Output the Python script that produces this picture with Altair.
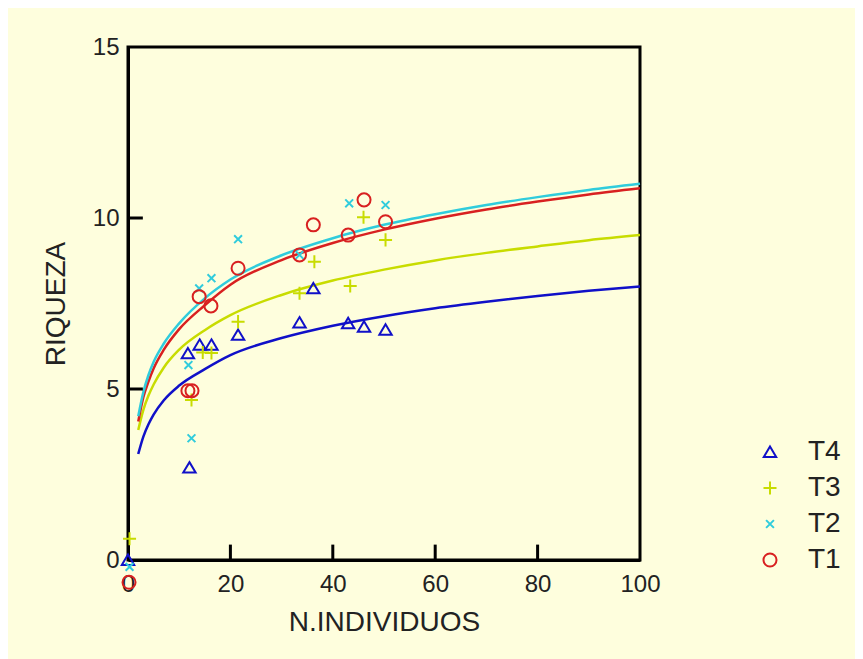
import altair as alt
import pandas as pd

series = ["T4", "T3", "T2", "T1"]
colors = ["#1010C8", "#C8DC00", "#30CCDC", "#D82020"]
shapes = [
    "M0,-0.85L0.95,0.75L-0.95,0.75Z",
    "M-1,0L1,0M0,-1L0,1",
    "M-0.6,-0.6L0.6,0.6M-0.6,0.6L0.6,-0.6",
    "circle",
]

# observed points
t4_x = [0, 11.7, 12, 14, 16.3, 21.5, 33.5, 36.2, 43, 46.1, 50.3]
t4_y = [0, 6.04, 2.7, 6.29, 6.29, 6.58, 6.94, 7.94, 6.92, 6.82, 6.73]
t3_x = [0.3, 12.4, 14.6, 16.3, 21.5, 33.5, 36.4, 43.4, 46, 50.3]
t3_y = [0.62, 4.68, 6.07, 6.05, 6.97, 7.8, 8.72, 8.01, 10.02, 9.36]
t2_x = [0.3, 12.4, 11.8, 13.9, 16.3, 21.5, 33.5, 43.2, 50.3]
t2_y = [-0.2, 3.56, 5.7, 7.94, 8.24, 9.38, 8.92, 10.43, 10.38]
t1_x = [0.2, 11.7, 12.5, 13.9, 16.2, 21.5, 33.5, 36.2, 43, 46.1, 50.3]
t1_y = [-0.65, 4.95, 4.95, 7.7, 7.43, 8.53, 8.92, 9.8, 9.5, 10.53, 9.89]

# fitted curves
curve_x = [2, 3, 4, 5, 7, 10, 15, 20, 30, 40, 50, 60, 70, 80, 90, 100]
t4_c = [3.10, 3.61, 3.97, 4.25, 4.67, 5.10, 5.58, 5.99, 6.49, 6.85, 7.13, 7.36, 7.55, 7.72, 7.87, 8.00]
t3_c = [3.80, 4.39, 4.81, 5.13, 5.63, 6.15, 6.72, 7.16, 7.75, 8.17, 8.49, 8.76, 8.98, 9.17, 9.35, 9.50]
t2_c = [4.20, 4.91, 5.41, 5.79, 6.33, 6.92, 7.65, 8.20, 8.91, 9.41, 9.80, 10.11, 10.38, 10.61, 10.82, 11.00]
t1_c = [4.05, 4.76, 5.22, 5.60, 6.15, 6.75, 7.45, 8.05, 8.77, 9.27, 9.66, 9.98, 10.25, 10.48, 10.69, 10.87]

x_ticks = [0, 20, 40, 60, 80, 100]
y_ticks = [0, 5, 10, 15]

pts = pd.concat([
    pd.DataFrame({"x": t4_x, "y": t4_y, "s": "T4"}),
    pd.DataFrame({"x": t3_x, "y": t3_y, "s": "T3"}),
    pd.DataFrame({"x": t2_x, "y": t2_y, "s": "T2"}),
    pd.DataFrame({"x": t1_x, "y": t1_y, "s": "T1"}),
])
curve_vals = {"T4": t4_c, "T3": t3_c, "T2": t2_c, "T1": t1_c}
color_of = dict(zip(series, colors))

FONT = "Liberation Sans"
xs = alt.Scale(domain=[0, 100], nice=False)
ys = alt.Scale(domain=[0, 15], nice=False)
cs = alt.Scale(domain=series, range=colors)
ss = alt.Scale(domain=series, range=shapes)

xaxis = alt.Axis(values=x_ticks, title="N.INDIVIDUOS", labelFlush=False, labelOverlap=False,
                 labelPadding=12, titlePadding=12)
yaxis = alt.Axis(values=y_ticks, title="RIQUEZA", labelOverlap=False, labelPadding=9,
                 titlePadding=22)

# inward tick marks along the frame
xt_df = pd.DataFrame({"tx": x_ticks[1:-1], "ty": [0.0] * 4, "ty2": [0.45] * 4})
yt_df = pd.DataFrame({"ty": y_ticks[1:-1], "tx": [0.0] * 2, "tx2": [2.9] * 2})

xt = alt.Chart(xt_df).mark_rule(stroke="black", strokeWidth=3).encode(
    x=alt.X("tx:Q", scale=xs, axis=xaxis),
    y=alt.Y("ty:Q", scale=ys, axis=yaxis), y2="ty2:Q",
)
yt = alt.Chart(yt_df).mark_rule(stroke="black", strokeWidth=3).encode(
    x=alt.X("tx:Q", scale=xs, axis=xaxis), x2="tx2:Q",
    y=alt.Y("ty:Q", scale=ys, axis=yaxis),
)

line_layers = []
for s in ["T4", "T3", "T1", "T2"]:
    df = pd.DataFrame({"x": curve_x, "y": curve_vals[s]})
    line_layers.append(
        alt.Chart(df).mark_line(strokeWidth=2.5, interpolate="monotone", color=color_of[s]).encode(
            x=alt.X("x:Q", scale=xs, axis=xaxis),
            y=alt.Y("y:Q", scale=ys, axis=yaxis),
        )
    )

leg = alt.Legend(
    title=None, orient="none", legendX=628, legendY=391, padding=0,
    labelFontSize=28, labelFont=FONT, labelColor="#222222",
    symbolSize=170, symbolStrokeWidth=2, labelOffset=24, rowPadding=8,
)

points = alt.Chart(pts).mark_point(filled=False, size=170, strokeWidth=2, opacity=1).encode(
    x=alt.X("x:Q", scale=xs, axis=xaxis),
    y=alt.Y("y:Q", scale=ys, axis=yaxis),
    color=alt.Color("s:N", scale=cs, legend=leg),
    shape=alt.Shape("s:N", scale=ss, legend=leg),
)

chart = alt.layer(*line_layers, points, xt, yt).properties(
    width=512, height=513,
    autosize=alt.AutoSizeParams(type="none"),
    padding={"left": 120, "top": 39, "right": 215, "bottom": 99},
    background="#FEFEDD",
).configure_view(
    stroke="black", strokeWidth=3, fill="#FEFEDD"
).configure_axis(
    grid=False, ticks=False, domain=True, domainColor="black", domainWidth=3,
    labelFont=FONT, labelFontSize=24, labelColor="#222222",
    titleFont=FONT, titleFontSize=28, titleColor="#222222", titleFontWeight="normal",
)

chart.save("out.html", embed_options={"renderer": "svg", "actions": False})
